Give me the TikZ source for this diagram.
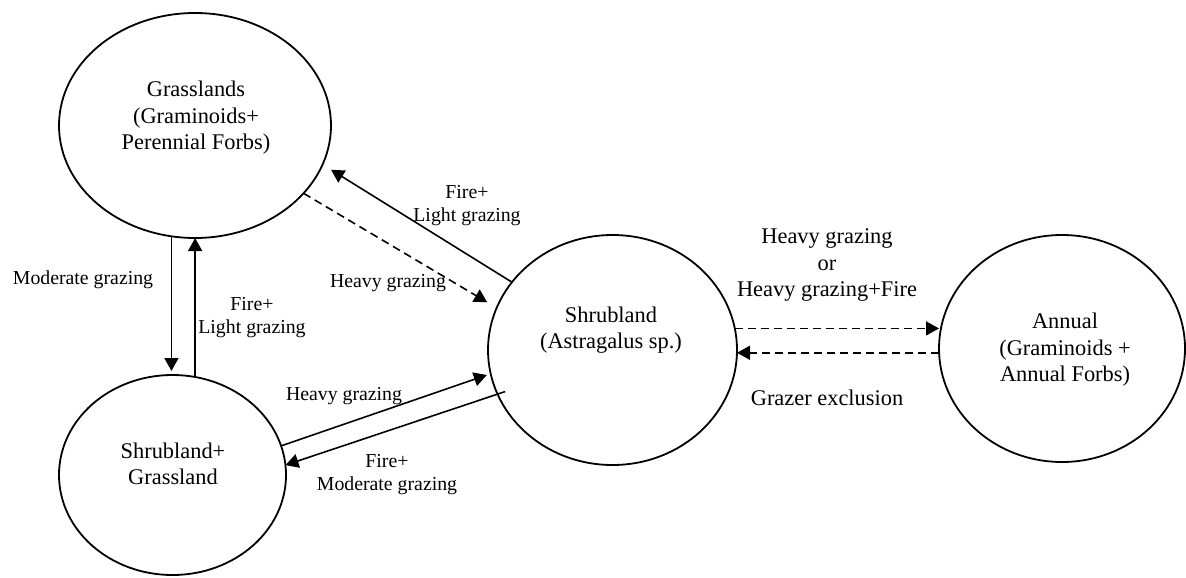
\documentclass[tikz,border=0pt]{standalone}
\usepackage{fontspec}
\setmainfont{Liberation Serif}
\usetikzlibrary{arrows.meta,shapes.geometric}

\begin{document}
\begin{tikzpicture}[x=0.5pt,y=-0.5pt,
    state/.style={draw,ellipse,line width=0.9pt,inner sep=0pt,outer sep=0pt},
    link/.style={line width=0.8pt,-{Triangle[length=6.5pt,width=7pt]}},
    dashlink/.style={link,dash pattern=on 4pt off 2.5pt},
    smalltxt/.style={align=center,inner sep=0pt,font=\fontsize{9.9}{11.5}\selectfont},
    bigtxt/.style={align=center,inner sep=0pt,font=\fontsize{11.2}{13.3}\selectfont}]
  \useasboundingbox (0,0) rectangle (1186,577);

  % states
  \node[state,minimum width=136pt,minimum height=112.5pt] (grass) at (195,125.5) {};
  \node[state,minimum width=113.5pt,minimum height=100pt] (mix) at (172.5,475) {};
  \node[state,minimum width=124.5pt,minimum height=115pt] (shrub) at (612.5,350) {};
  \node[state,minimum width=123pt,minimum height=113.5pt] (annual) at (1062,348.5) {};

  \node[bigtxt] (grasstxt) at (196,118) {Grasslands\\(Graminoids+\\Perennial Forbs)};
  \node[bigtxt] (mixtxt) at (173,464) {Shrubland+\\Grassland};
  \node[bigtxt] (shrubtxt) at (611,330) {Shrubland\\(Astragalus sp.)};
  \node[bigtxt] (annualtxt) at (1065,350) {Annual\\(Graminoids +\\Annual Forbs)};

  % grasslands <-> shrubland+grassland
  \draw[link,shorten >=2pt] (grass.258.3) -- (grass.258.3 |- mix.north);
  \draw[link] (mix.77.6) -- (mix.77.6 |- grass.south);
  \node[smalltxt] (modlab) at (83,280) {Moderate grazing};
  \node[smalltxt] (firelab1) at (252,318) {Fire+\\Light grazing};

  % grasslands <-> shrubland
  \draw[link,shorten >=5pt] (shrub.146.1) -- (grass.343.7);
  \draw[dashlink,shorten >=5.5pt] (grass.328.5) -- (shrub.160.4);
  \node[smalltxt] (firelab2) at (467,206) {Fire+\\Light grazing};
  \node[smalltxt] (heavylab1) at (388,283) {Heavy grazing};

  % shrubland+grassland <-> shrubland
  \draw[link,shorten >=2pt] (mix.15.9) -- (shrub.191.6);
  \draw[link,shorten <=-4pt] (shrub.201.1) -- (mix.5);
  \node[smalltxt] (heavylab2) at (344,396) {Heavy grazing};
  \node[smalltxt] (firelab3) at (387,475) {Fire+\\Moderate grazing};

  % shrubland <-> annual
  \draw[dashlink] (shrub.10.7) -- (shrub.10.7 -| annual.west);
  \draw[dashlink] (annual.182.1) -- (annual.182.1 -| shrub.east);
  \node[bigtxt] (heavylab3) at (827,265) {Heavy grazing\\or\\Heavy grazing+Fire};
  \node[bigtxt] (exclab) at (827,398) {Grazer exclusion};
\end{tikzpicture}
\end{document}
